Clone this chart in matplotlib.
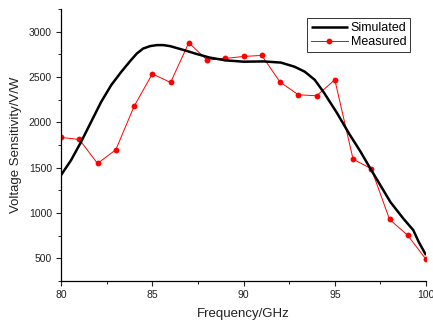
import matplotlib
matplotlib.use("Agg")
import matplotlib.pyplot as plt
from matplotlib.ticker import MultipleLocator

plt.rcParams['font.family'] = ['Liberation Sans', 'DejaVu Sans']

# Simulated curve
sim_f = [80.0, 80.55, 81.1, 81.65, 82.2, 82.75, 83.3, 83.8, 84.15, 84.5, 84.88,
         85.25, 85.6, 85.97, 86.7, 87.45, 88.15, 89.0, 90.0, 91.1, 92.05, 92.8,
         93.35, 93.9, 94.4, 95.1, 95.8, 96.4, 96.95, 97.5, 98.05, 98.75, 99.3,
         99.6, 100.0]
sim_v = [1418, 1584, 1786, 2007, 2227, 2412, 2558, 2680, 2760, 2815, 2842,
         2853, 2853, 2842, 2800, 2754, 2715, 2685, 2670, 2673, 2660, 2614,
         2560, 2470, 2330, 2110, 1870, 1680, 1490, 1305, 1120, 940, 811,
         680, 535]

# Measured points
meas_f = [80, 81, 82, 83, 84, 85, 86, 87, 88, 89, 90, 91, 92, 93, 94, 95, 96, 97, 98, 99, 100]
meas_v = [1834, 1812, 1547, 1698, 2177, 2536, 2441, 2879, 2688, 2706, 2728, 2739,
          2445, 2305, 2294, 2470, 1595, 1488, 930, 753, 488]

fig = plt.figure(figsize=(4.33, 3.26), dpi=100)
ax = fig.add_axes([0.141, 0.138, 0.843, 0.834])

ax.plot(sim_f, sim_v, color='black', lw=1.8, label='Simulated', zorder=3,
        solid_joinstyle='round', solid_capstyle='butt')
ax.plot(meas_f, meas_v, color='red', lw=0.7, marker='o', markersize=4.2,
        markeredgewidth=0, label='Measured', zorder=2)

ax.set_xlim(80, 100)
ax.set_ylim(250, 3250)
ax.xaxis.set_major_locator(MultipleLocator(5))
ax.xaxis.set_minor_locator(MultipleLocator(2.5))
ax.yaxis.set_major_locator(MultipleLocator(500))
ax.yaxis.set_minor_locator(MultipleLocator(250))
ax.tick_params(which='major', direction='out', length=3.5, width=0.8, labelsize=7.5,
               colors='#222222', pad=3)
ax.tick_params(which='minor', direction='out', length=2, width=0.6)
for s in ['top', 'right']:
    ax.spines[s].set_visible(False)
for s in ['left', 'bottom']:
    ax.spines[s].set_linewidth(0.9)

ax.set_xlabel('Frequency/GHz', fontsize=9.5, color='#222222', labelpad=6)
ax.set_ylabel('Voltage Sensitivity/V/W', fontsize=9.5, color='#222222', labelpad=5)

leg = ax.legend(loc='upper right', bbox_to_anchor=(0.956, 0.966), fontsize=9,
                frameon=True, fancybox=False, borderpad=0.3, handlelength=3.0,
                handletextpad=0.2, labelspacing=0.15, borderaxespad=0)
leg.get_frame().set_edgecolor('black')
leg.get_frame().set_linewidth(0.7)

fig.savefig('out.png', dpi=100)
